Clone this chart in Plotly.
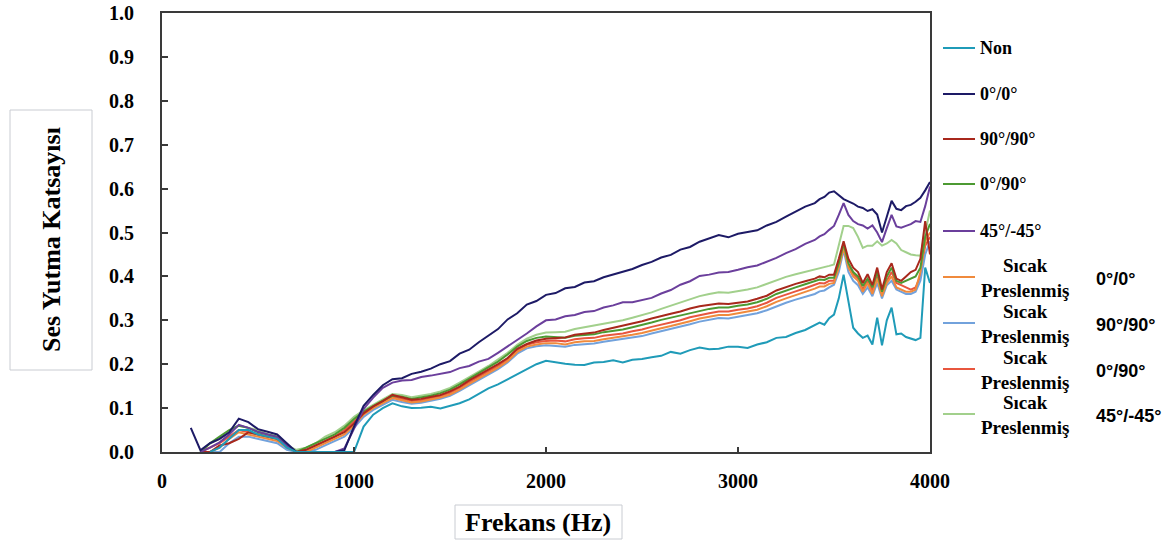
import plotly.graph_objects as go

# Frequency axis (Hz)
freq = list(range(150, 3401, 50)) + list(range(3425, 4001, 25))

non = [None, None, 0.0, 0.01, 0.03, 0.05, 0.05, 0.04, 0.035, 0.03, 0.01, 0.0, 0.0, 0.0, 0.0, 0.0, 0.0, 0.0,
       0.058, 0.085, 0.1, 0.111, 0.104, 0.1, 0.101, 0.103, 0.099, 0.105, 0.111, 0.12, 0.133, 0.145, 0.154, 0.166, 0.177, 0.189, 0.2, 0.208,
       0.204, 0.201, 0.199, 0.198, 0.204, 0.205, 0.209, 0.204, 0.21, 0.212, 0.216, 0.219, 0.228, 0.224, 0.232, 0.238, 0.234, 0.235, 0.24, 0.24,
       0.237, 0.245, 0.25, 0.26, 0.262, 0.271, 0.278, 0.29,
       0.295, 0.29, 0.305, 0.313, 0.35, 0.404, 0.34, 0.283, 0.27, 0.26, 0.265, 0.245, 0.306, 0.243, 0.3, 0.329, 0.268, 0.27, 0.262, 0.258, 0.255, 0.26, 0.42, 0.385]

s00 = [0.055, 0.004, 0.02, 0.03, 0.045, 0.076, 0.068, 0.052, 0.046, 0.04, 0.02, 0.0, 0.0, 0.0, 0.0, 0.0, 0.004, 0.058,
       0.105, 0.13, 0.152, 0.166, 0.168, 0.178, 0.183, 0.19, 0.2, 0.207, 0.224, 0.233, 0.25, 0.266, 0.28, 0.302, 0.316, 0.336, 0.344, 0.358,
       0.362, 0.373, 0.376, 0.386, 0.389, 0.398, 0.404, 0.411, 0.417, 0.426, 0.433, 0.443, 0.449, 0.461, 0.467, 0.479, 0.486, 0.494, 0.489, 0.497,
       0.501, 0.505, 0.516, 0.524, 0.536, 0.547, 0.559, 0.567,
       0.576, 0.581, 0.591, 0.594, 0.586, 0.576, 0.571, 0.566, 0.559, 0.556, 0.549, 0.553, 0.541, 0.5, 0.536, 0.572, 0.554, 0.551, 0.56, 0.563, 0.57, 0.579, 0.596, 0.615]

s9090 = [None, 0.0, 0.0, 0.015, 0.02, 0.03, 0.045, 0.04, 0.035, 0.03, 0.015, 0.0, 0.005, 0.015, 0.025, 0.035, 0.045, 0.065,
         0.088, 0.104, 0.116, 0.13, 0.124, 0.119, 0.121, 0.125, 0.13, 0.138, 0.149, 0.163, 0.175, 0.188, 0.2, 0.214, 0.235, 0.246, 0.254, 0.258,
         0.26, 0.261, 0.267, 0.27, 0.272, 0.278, 0.283, 0.287, 0.292, 0.298, 0.304, 0.31, 0.315, 0.32, 0.327, 0.332, 0.335, 0.338, 0.337, 0.34,
         0.343, 0.349, 0.356, 0.368, 0.376, 0.383, 0.389, 0.395,
         0.4, 0.398, 0.404, 0.404, 0.44, 0.48, 0.44, 0.42, 0.41, 0.385, 0.405, 0.38, 0.42, 0.37, 0.41, 0.43, 0.395, 0.39, 0.4, 0.41, 0.415, 0.44, 0.526, 0.45]

s090 = [None, 0.0, 0.02, 0.035, 0.05, 0.06, 0.055, 0.045, 0.04, 0.035, 0.015, 0.0, 0.01, 0.02, 0.03, 0.04, 0.055, 0.075,
        0.092, 0.105, 0.117, 0.128, 0.126, 0.121, 0.124, 0.128, 0.134, 0.142, 0.154, 0.167, 0.18, 0.193, 0.206, 0.222, 0.24, 0.253, 0.26, 0.263,
        0.262, 0.26, 0.265, 0.267, 0.268, 0.273, 0.276, 0.279, 0.284, 0.289, 0.295, 0.301, 0.306, 0.311, 0.317, 0.322, 0.326, 0.329, 0.329, 0.333,
        0.336, 0.341, 0.349, 0.36, 0.368, 0.375, 0.382, 0.389,
        0.393, 0.392, 0.397, 0.397, 0.43, 0.475, 0.43, 0.41, 0.4, 0.378, 0.395, 0.375, 0.41, 0.365, 0.4, 0.42, 0.39, 0.385, 0.39, 0.395, 0.4, 0.42, 0.49, 0.52]

s4545 = [None, 0.0, 0.01, 0.022, 0.04, 0.062, 0.055, 0.046, 0.04, 0.034, 0.014, 0.0, 0.0, 0.0, 0.0, 0.0, 0.008, 0.055,
         0.098, 0.124, 0.146, 0.158, 0.163, 0.164, 0.171, 0.174, 0.178, 0.182, 0.191, 0.196, 0.206, 0.212, 0.226, 0.24, 0.256, 0.27, 0.286, 0.3,
         0.302, 0.309, 0.312, 0.319, 0.321, 0.329, 0.334, 0.341, 0.341, 0.346, 0.351, 0.361, 0.369, 0.381, 0.389, 0.401, 0.404, 0.409, 0.41, 0.415,
         0.421, 0.425, 0.434, 0.442, 0.453, 0.462, 0.474, 0.483,
         0.491, 0.496, 0.506, 0.515, 0.54, 0.567, 0.54, 0.526, 0.519, 0.516, 0.509, 0.516, 0.5, 0.478, 0.51, 0.54, 0.514, 0.511, 0.515, 0.519, 0.526, 0.524, 0.56, 0.605]

hp00 = [None, None, 0.0, 0.01, 0.03, 0.045, 0.04, 0.035, 0.03, 0.025, 0.01, 0.0, 0.0, 0.01, 0.02, 0.03, 0.04, 0.06,
        0.085, 0.1, 0.112, 0.123, 0.118, 0.113, 0.115, 0.119, 0.124, 0.131, 0.142, 0.155, 0.167, 0.179, 0.192, 0.207, 0.228, 0.24, 0.245, 0.248,
        0.248, 0.245, 0.25, 0.252, 0.253, 0.257, 0.26, 0.263, 0.267, 0.271, 0.277, 0.282, 0.287, 0.292, 0.298, 0.304, 0.308, 0.312, 0.312, 0.316,
        0.319, 0.324, 0.332, 0.342, 0.35, 0.357, 0.364, 0.372,
        0.377, 0.377, 0.383, 0.385, 0.42, 0.465, 0.42, 0.4, 0.39, 0.365, 0.385, 0.36, 0.395, 0.355, 0.385, 0.4, 0.375, 0.37, 0.365, 0.365, 0.37, 0.41, 0.48, 0.5]

hp9090 = [None, None, 0.0, 0.0, 0.02, 0.035, 0.035, 0.03, 0.025, 0.02, 0.005, 0.0, 0.0, 0.005, 0.015, 0.025, 0.035, 0.055,
          0.08, 0.096, 0.108, 0.119, 0.114, 0.11, 0.112, 0.116, 0.121, 0.128, 0.139, 0.152, 0.164, 0.176, 0.189, 0.204, 0.224, 0.236, 0.241, 0.243,
          0.242, 0.24, 0.244, 0.246, 0.247, 0.251, 0.254, 0.257, 0.26, 0.264, 0.27, 0.275, 0.28, 0.285, 0.291, 0.297, 0.301, 0.305, 0.304, 0.308,
          0.311, 0.316, 0.323, 0.332, 0.34, 0.347, 0.354, 0.36,
          0.366, 0.368, 0.375, 0.381, 0.41, 0.46, 0.41, 0.39, 0.38, 0.36, 0.375, 0.355, 0.385, 0.35, 0.38, 0.39, 0.37, 0.365, 0.36, 0.36, 0.365, 0.39, 0.45, 0.48]

hp090 = [None, 0.0, 0.01, 0.02, 0.035, 0.05, 0.045, 0.04, 0.035, 0.03, 0.01, 0.0, 0.005, 0.015, 0.025, 0.035, 0.05, 0.07,
         0.09, 0.103, 0.114, 0.126, 0.121, 0.116, 0.118, 0.122, 0.127, 0.135, 0.146, 0.159, 0.171, 0.183, 0.196, 0.211, 0.232, 0.244, 0.25, 0.253,
         0.254, 0.252, 0.257, 0.259, 0.26, 0.265, 0.268, 0.27, 0.275, 0.279, 0.285, 0.29, 0.295, 0.3, 0.307, 0.312, 0.316, 0.32, 0.32, 0.324,
         0.327, 0.332, 0.34, 0.351, 0.359, 0.366, 0.373, 0.38,
         0.385, 0.384, 0.39, 0.39, 0.425, 0.47, 0.425, 0.405, 0.395, 0.37, 0.39, 0.368, 0.4, 0.36, 0.39, 0.41, 0.385, 0.38, 0.375, 0.37, 0.375, 0.4, 0.47, 0.49]

hp4545 = [None, 0.0, 0.02, 0.03, 0.045, 0.06, 0.055, 0.05, 0.04, 0.035, 0.015, 0.005, 0.01, 0.02, 0.035, 0.045, 0.06, 0.08,
          0.095, 0.108, 0.12, 0.132, 0.13, 0.125, 0.128, 0.132, 0.138, 0.146, 0.158, 0.17, 0.183, 0.196, 0.21, 0.226, 0.244, 0.258, 0.267, 0.272,
          0.273, 0.274, 0.28, 0.284, 0.288, 0.293, 0.297, 0.3, 0.306, 0.312, 0.318, 0.326, 0.333, 0.34, 0.348, 0.355, 0.36, 0.364, 0.363, 0.366,
          0.37, 0.375, 0.383, 0.392, 0.399, 0.405, 0.41, 0.415,
          0.418, 0.42, 0.424, 0.427, 0.47, 0.515, 0.515, 0.51, 0.49, 0.465, 0.47, 0.47, 0.48, 0.47, 0.475, 0.483, 0.475, 0.46, 0.455, 0.45, 0.448, 0.447, 0.5, 0.55]

x_ticks = [0, 1000, 2000, 3000, 4000]
y_ticks = [0.0, 0.1, 0.2, 0.3, 0.4, 0.5, 0.6, 0.7, 0.8, 0.9, 1.0]
y_tick_text = ["0.0", "0.1", "0.2", "0.3", "0.4", "0.5", "0.6", "0.7", "0.8", "0.9", "1.0"]

# name, top label, side label, values, colour
series = [
    ("Non", "Non", "", non, "#1f9bb8"),
    ("0°/0°", "0°/0°", "", s00, "#1d1a66"),
    ("90°/90°", "90°/90°", "", s9090, "#a8281c"),
    ("0°/90°", "0°/90°", "", s090, "#4c9a32"),
    ("45°/-45°", "45°/-45°", "", s4545, "#6b3f9c"),
    ("Sıcak Preslenmiş 0°/0°", "Sıcak<br>Preslenmiş", "0°/0°", hp00, "#f08a3c"),
    ("Sıcak Preslenmiş 90°/90°", "Sıcak<br>Preslenmiş", "90°/90°", hp9090, "#72a2dc"),
    ("Sıcak Preslenmiş 0°/90°", "Sıcak<br>Preslenmiş", "0°/90°", hp090, "#e8563e"),
    ("Sıcak Preslenmiş 45°/-45°", "Sıcak<br>Preslenmiş", "45°/-45°", hp4545, "#a2d08c"),
]

# plot area in page pixels: x 162..930, y 13..452 (page body margin removed via post_script)
W, H = 1175, 545
PL, PT, PR, PB = 162, 13, 930, 452
L, T = PL, PT
R = W - PR
B = H - PB

def px(x):
    return (x - PL) / (PR - PL)

def py(y):
    return (PB - y) / (PB - PT)

fig = go.Figure()
draw_order = [8, 7, 6, 5, 3, 2, 4, 1, 0]
for i in draw_order:
    name, _, _, vals, col = series[i]
    fig.add_trace(go.Scatter(x=freq, y=vals, mode="lines", name=name,
                             line=dict(color=col, width=2), connectgaps=False,
                             showlegend=False))

serif = "Liberation Serif, Times New Roman, serif"
sans = "Liberation Sans, Arial, sans-serif"

shapes = []
annotations = []
legend_rows = [48, 94, 139, 184, 231, 277, 323, 369, 414]
for k, (name, top, side, vals, col) in enumerate(series):
    yy = legend_rows[k]
    shapes.append(dict(type="line", xref="paper", yref="paper",
                       x0=px(943), x1=px(975), y0=py(yy), y1=py(yy),
                       line=dict(color=col, width=2)))
    if side == "":
        annotations.append(dict(xref="paper", yref="paper", x=px(978), y=py(yy),
                                text="<b>" + top + "</b>", showarrow=False,
                                xanchor="left", yanchor="middle",
                                font=dict(family=serif, size=18, color="black")))
    else:
        annotations.append(dict(xref="paper", yref="paper", x=px(1025), y=py(yy + 1),
                                text="<b>" + top + "</b>", showarrow=False,
                                xanchor="center", yanchor="middle", align="center",
                                font=dict(family=serif, size=19, color="black")))
        annotations.append(dict(xref="paper", yref="paper", x=px(1094), y=py(yy + 2),
                                text="<b>" + side + "</b>", showarrow=False,
                                xanchor="left", yanchor="middle",
                                font=dict(family=sans, size=18, color="black")))

# axis title boxes
shapes.append(dict(type="rect", xref="paper", yref="paper",
                   x0=px(10), x1=px(92), y0=py(370), y1=py(110),
                   line=dict(color="#c9ccd2", width=1)))
annotations.append(dict(xref="paper", yref="paper", x=px(51), y=py(240),
                        text="<b>Ses Yutma Katsayısı</b>", showarrow=False, textangle=-90,
                        xanchor="center", yanchor="middle",
                        font=dict(family=serif, size=26, color="black")))
shapes.append(dict(type="rect", xref="paper", yref="paper",
                   x0=px(455), x1=px(622), y0=py(539), y1=py(505),
                   line=dict(color="#c9ccd2", width=1)))
annotations.append(dict(xref="paper", yref="paper", x=px(538), y=py(522),
                        text="<b>Frekans (Hz)</b>", showarrow=False,
                        xanchor="center", yanchor="middle",
                        font=dict(family=serif, size=26, color="black")))

fig.update_layout(
    width=W, height=H,
    margin=dict(l=L, r=R, t=T, b=B, autoexpand=False),
    paper_bgcolor="white", plot_bgcolor="white",
    shapes=shapes, annotations=annotations,
    showlegend=False,
    xaxis=dict(range=[0, 4000], tickvals=x_ticks, ticktext=[str(v) for v in x_ticks],
               automargin=False, ticklabeloverflow="allow",
               showgrid=False, zeroline=False, showline=True, mirror=True,
               linecolor="#3a3a3a", linewidth=2, ticks="inside", ticklen=5,
               tickcolor="#3a3a3a", tickwidth=1.5, ticklabelstandoff=10,
               tickfont=dict(family=serif, size=20, color="black", weight="bold")),
    yaxis=dict(range=[0, 1.0], tickvals=y_ticks, ticktext=y_tick_text,
               automargin=False, ticklabeloverflow="allow",
               showgrid=False, zeroline=False, showline=True, mirror=True,
               linecolor="#3a3a3a", linewidth=2, ticks="inside", ticklen=6,
               tickcolor="#3a3a3a", tickwidth=1.5, ticklabelstandoff=22,
               tickfont=dict(family=serif, size=20, color="black", weight="bold")),
)

fig.write_html("out.html", config={"displayModeBar": False},
               post_script="document.body.style.margin='0';document.body.style.overflow='hidden';")
